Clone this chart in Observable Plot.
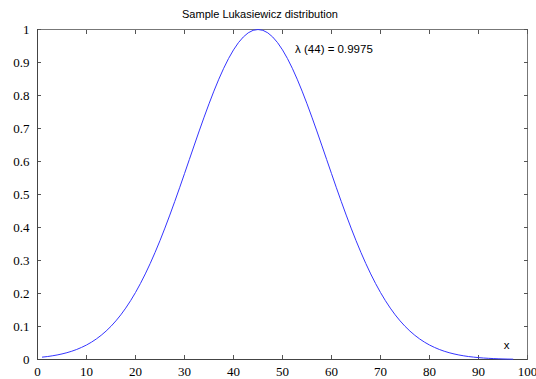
<!DOCTYPE html>
<html><head><meta charset="utf-8">
<script src="https://cdn.jsdelivr.net/npm/d3@7"></script>
<script src="https://cdn.jsdelivr.net/npm/@observablehq/plot@0.6"></script>
<style>
body{margin:0;background:#fff;}
#title{width:536px;height:20px;box-sizing:border-box;padding:7px 16px 0 0;text-align:center;font:11px "Liberation Sans",Arial,sans-serif;line-height:14px;color:#000;}
</style></head><body>
<div id="title">Sample Lukasiewicz distribution</div>
<div id="chart"></div>
<script>
const xs = [1,2,3,4,5,6,7,8,9,10,11,12,13,14,15,16,17,18,19,20,21,22,23,24,25,26,27,28,29,30,31,32,33,34,35,36,37,38,39,40,41,42,43,44,45,46,47,48,49,50,51,52,53,54,55,56,57,58,59,60,61,62,63,64,65,66,67,68,69,70,71,72,73,74,75,76,77,78,79,80,81,82,83,84,85,86,87,88,89,90,91,92,93,94,95,96,97];
const lambda = [0.0072,0.0089,0.0111,0.0137,0.0169,0.0206,0.0251,0.0304,0.0367,0.0439,
0.0524,0.0622,0.0734,0.0862,0.1007,0.1170,0.1353,0.1557,0.1783,0.2030,
0.2301,0.2594,0.2909,0.3247,0.3604,0.3982,0.4376,0.4784,0.5204,0.5633,
0.6065,0.6498,0.6926,0.7344,0.7748,0.8133,0.8494,0.8825,0.9123,0.9382,
0.9600,0.9773,0.9899,0.9975,1.0000,0.9975,0.9899,0.9773,0.9600,0.9382,
0.9123,0.8825,0.8494,0.8133,0.7748,0.7344,0.6926,0.6498,0.6065,0.5633,
0.5204,0.4784,0.4376,0.3982,0.3604,0.3247,0.2909,0.2594,0.2301,0.2030,
0.1783,0.1557,0.1353,0.1170,0.1007,0.0862,0.0734,0.0622,0.0524,0.0439,
0.0367,0.0304,0.0251,0.0206,0.0169,0.0137,0.0111,0.0089,0.0072,0.0057,
0.0045,0.0036,0.0028,0.0022,0.0017,0.0013,0.0010];
const xTicks = [0,10,20,30,40,50,60,70,80,90,100];
const yTicks = [0,0.1,0.2,0.3,0.4,0.5,0.6,0.7,0.8,0.9,1];
const annotX = [44];
const annotY = [0.9975];
const annotText = ["λ (44) = 0.9975"];
const xLabel = "x";

const data = xs.map((x, i) => ({x, y: lambda[i]}));
const annot = annotX.map((x, i) => ({x, y: annotY[i], t: annotText[i]}));
const axisColor = "#555";
const blank = () => "";
const plain = d => `${d}`;

const chart = Plot.plot({
  width: 536,
  height: 359,
  marginTop: 9,
  marginBottom: 20,
  marginLeft: 37,
  marginRight: 9,
  style: {color: "#000", background: "#fff"},
  x: {domain: [0, 100], axis: null, label: null},
  y: {domain: [0, 1], axis: null, label: null},
  marks: [
    Plot.frame({stroke: "#777"}),
    Plot.axisX(xTicks, {anchor: "bottom", tickSize: -4, tickPadding: 11, tickFormat: plain, stroke: axisColor, fill: "#000", label: null}),
    Plot.axisX(xTicks, {anchor: "top", tickSize: -4, tickFormat: blank, stroke: axisColor, label: null}),
    Plot.axisY(yTicks, {anchor: "left", tickSize: -4, tickPadding: 12, tickFormat: plain, stroke: axisColor, fill: "#000", label: null}),
    Plot.axisY(yTicks, {anchor: "right", tickSize: -4, tickFormat: blank, stroke: axisColor, label: null}),
    Plot.ruleX([0], {stroke: "#444"}),
    Plot.ruleY([0], {stroke: "#444"}),
    Plot.line(data, {x: "x", y: "y", stroke: "#3535ff", strokeWidth: 1}),
    Plot.text(annot, {x: "x", y: "y", text: "t", dx: 42, dy: 19, textAnchor: "start", fontSize: 11.7, fill: "#000", className: "annot"}),
    Plot.text([xLabel], {text: d => d, frameAnchor: "bottom-right", dx: -18, dy: -11, fontSize: 11, fill: "#000", className: "annot"})
  ]
});
const svgSel = d3.select(chart.tagName.toLowerCase() === "svg" ? chart : chart.querySelector("svg"));
svgSel.selectAll("text")
  .attr("font-family", "DejaVu Serif")
  .style("font-family", "'Liberation Serif', 'DejaVu Serif', serif")
  .style("font-size", "13px");
svgSel.selectAll(".annot text, .annot")
  .attr("font-family", "Liberation Sans")
  .style("font-family", "'Liberation Sans', Arial, sans-serif")
  .style("font-size", "11.5px");
document.getElementById("chart").appendChild(chart);
</script>
</body></html>
